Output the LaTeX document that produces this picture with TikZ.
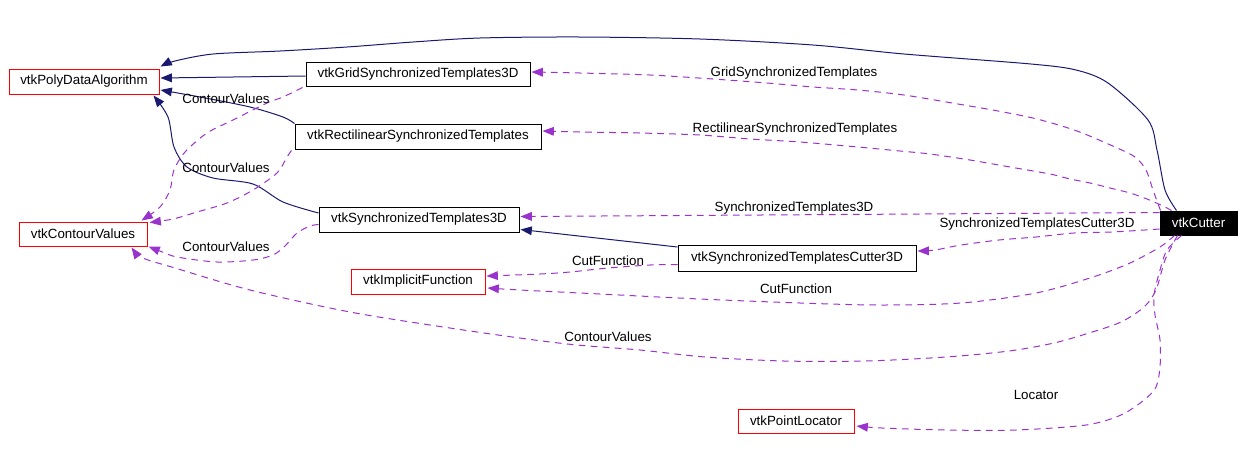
\documentclass[tikz,border=0pt]{standalone}
\usepackage{fontspec}
\setmainfont{Liberation Sans}
\usetikzlibrary{arrows.meta,calc}
\definecolor{inh}{HTML}{191970}
\definecolor{use}{HTML}{9A32CD}
\begin{document}
\begin{tikzpicture}[x=0.75pt,y=-0.75pt,
  cls/.style={draw, line width=0.75pt, inner sep=0pt, align=center, font=\fontsize{10pt}{12pt}\selectfont},
  redbox/.style={cls, draw=red},
  blackbox/.style={cls, draw=black},
  cutbox/.style={cls, draw=black, fill=black, text=white},
  inhedge/.style={draw=inh, line width=0.75pt, -{Triangle[length=8.5pt,width=6.5pt]}},
  useedge/.style={draw=use, line width=0.75pt, dash pattern=on 5pt off 4pt, -{Triangle[length=8.5pt,width=6.5pt]}},
  lbl/.style={inner sep=0pt, font=\fontsize{10pt}{12pt}\selectfont}
]
\useasboundingbox (0,0) rectangle (1244,451);

% nodes
\node[redbox, minimum width=112.5pt, minimum height=18.75pt] (pda) at (84,81.5) {vtkPolyDataAlgorithm};
\node[redbox, minimum width=96pt, minimum height=18pt] (cv) at (83,234) {vtkContourValues};
\node[blackbox, minimum width=168pt, minimum height=18pt] (gst) at (418,74) {vtkGridSynchronizedTemplates3D};
\node[blackbox, minimum width=184.5pt, minimum height=18.75pt] (rst) at (418,136.5) {vtkRectilinearSynchronizedTemplates};
\node[blackbox, minimum width=150pt, minimum height=18.75pt] (st) at (419,219.5) {vtkSynchronizedTemplates3D};
\node[redbox, minimum width=100.5pt, minimum height=18.75pt] (impl) at (418,281.5) {vtkImplicitFunction};
\node[blackbox, minimum width=178.5pt, minimum height=19.5pt] (stc) at (797,258.5) {vtkSynchronizedTemplatesCutter3D};
\node[cutbox, minimum width=57.75pt, minimum height=18pt] (cut) at (1198.5,223) {vtkCutter};
\node[redbox, minimum width=87pt, minimum height=18pt] (pl) at (796,421) {vtkPointLocator};

% inheritance edges
\draw[inhedge] plot[smooth] coordinates {($(cut.north west)+(17,0)$) (1165,190) (1157,150) (1148,120) (1108,83) (1076,70) (1031,64) (904,54) (813,45) (700,39) (580,37) (480,38) (413,42) (347,47) (280,51) (213,54) (175,61) ($(pda.north east)+(1,-2)$)};
\draw[inhedge] ($(gst.west)+(0,2)$) -- ($(pda.east)+(1,-3.5)$);
\draw[inhedge] plot[smooth] coordinates {(rst.north west) (283,117) (250,107) (200,97) ($(pda.east)+(1,8.5)$)};
\draw[inhedge] plot[smooth] coordinates {($(st.west)+(0,-6.5)$) (283,202) (253,184) (213,178) (187,167) (174,147) (168,117) ($(pda.south east)+(-6,1)$)};
\draw[inhedge] ($(stc.north west)+(0,2)$) -- ($(st.south east)+(1,-3)$);

% usage edges
\draw[useedge] plot[smooth] coordinates {($(cut.north west)+(1,0)$) (1153,190) (1146,170) (1135,157) (1115,147) (1077,131) (1037,119) (998,111) (958,104) (904,95) (858,90) (813,87) (767,83) (713,79) (650,75) (580,73) ($(gst.east)+(1,-2)$)};
\draw[useedge] plot[smooth] coordinates {($(cut.north west)+(12,0)$) (1163,206) (1147,199) (1130,193) (1110,188) (1090,183) (1070,179) (1050,174) (1010,167) (970,160) (930,154) (900,151) (858,147) (800,142) (750,139) (700,135) (640,133) (580,132) ($(rst.east)+(1,-5.5)$)};
\draw[useedge] ($(cut.north west)+(0,2)$) -- ($(st.east)+(1,-3)$);
\draw[useedge] plot[smooth] coordinates {($(cut.west)+(0,6)$) (1112,232) (1074,233) (1036,237) (999,240) (961,245) (935,250) ($(stc.east)+(1,-7.5)$)};
\draw[useedge] plot[smooth] coordinates {($(stc.west)+(0,6)$) (650,265) (608,268) (570,272) (540,274) ($(impl.east)+(1,-5.5)$)};
\draw[useedge] plot[smooth] coordinates {($(cut.south west)+(15,0)$) (1160,247) (1130,263) (1093,277) (1036,293) (961,303) (880,305) (800,303) (700,299) (600,294) (520,290) ($(impl.east)+(2,6.5)$)};
\draw[useedge] plot[smooth] coordinates {($(cut.south west)+(18,0)$) (1165,260) (1156,290) (1144,307) (1121,322) (1089,333) (1054,343) (1009,351) (946,357) (865,361) (784,361) (705,357) (640,350) (577,345) (527,339) (450,328) (350,312) (250,290) (175,268) (143,258) ($(cv.south east)+(-16,1)$)};
\draw[useedge] plot[smooth] coordinates {($(cut.south west)+(22,0)$) (1167,250) (1160,270) (1154,295) (1155,315) (1160,340) (1160,367) (1156,387) (1144,400) (1121,415) (1086,425) (1016,430) (946,430) (882,428) ($(pl.east)+(2,5)$)};
\draw[useedge] plot[smooth] coordinates {($(gst.south west)+(-3,1)$) (283,97) (267,103) (233,120) (207,133) (185,152) (174,170) (170,190) (160,207) ($(cv.north east)+(-6,-1)$)};
\draw[useedge] plot[smooth] coordinates {($(rst.south west)+(-3,1)$) (287,157) (277,173) (253,190) (227,203) (197,212) (173,219) ($(cv.north east)+(2,1)$)};
\draw[useedge] plot[smooth] coordinates {($(st.west)+(0,5)$) (310,226) (297,233) (285,246) (273,255) (253,260) (217,262) (177,257) (160,251) ($(cv.south east)+(1,0)$)};

% labels
\node[lbl] (l1) at (794,73) {GridSynchronizedTemplates};
\node[lbl] (l2) at (795,129) {RectilinearSynchronizedTemplates};
\node[lbl] (l3) at (794,208) {SynchronizedTemplates3D};
\node[lbl] (l4) at (1037,224) {SynchronizedTemplatesCutter3D};
\node[lbl] (l5) at (608,261) {CutFunction};
\node[lbl] (l6) at (796,289) {CutFunction};
\node[lbl] (l7) at (608,337) {ContourValues};
\node[lbl] (l8) at (1036,395) {Locator};
\node[lbl] (l9) at (226,99) {ContourValues};
\node[lbl] (l10) at (226,168) {ContourValues};
\node[lbl] (l11) at (226,247) {ContourValues};
\end{tikzpicture}
\end{document}
